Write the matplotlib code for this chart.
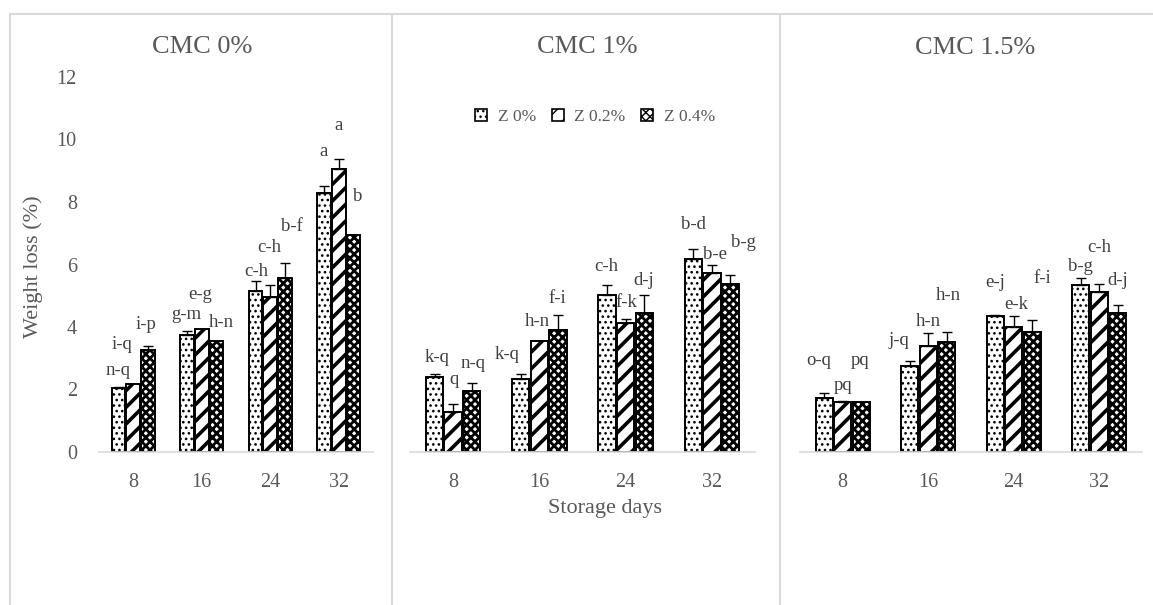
import numpy as np
import matplotlib.pyplot as plt
from matplotlib.lines import Line2D
from matplotlib.patches import Patch

days = ['8', '16', '24', '32']
panels = ['CMC 0%', 'CMC 1%', 'CMC 1.5%']
series = ['Z 0%', 'Z 0.2%', 'Z 0.4%']

# weight loss (%) per panel: rows = Z 0%, Z 0.2%, Z 0.4%
cmc0 = [[2.05, 3.73, 5.16, 8.29],
        [2.18, 3.95, 4.95, 9.06],
        [3.25, 3.56, 5.57, 6.95]]
cmc0_err = [[0.03, 0.15, 0.32, 0.21],
            [0.0, 0.0, 0.38, 0.32],
            [0.13, 0.0, 0.48, 0.0]]
cmc1 = [[2.39, 2.35, 5.01, 6.18],
        [1.28, 3.56, 4.13, 5.73],
        [1.96, 3.89, 4.45, 5.39]]
cmc1_err = [[0.10, 0.15, 0.32, 0.33],
            [0.27, 0.0, 0.14, 0.27],
            [0.25, 0.50, 0.57, 0.28]]
cmc15 = [[1.73, 2.74, 4.36, 5.33],
         [1.59, 3.38, 4.00, 5.12],
         [1.60, 3.51, 3.84, 4.45]]
cmc15_err = [[0.16, 0.16, 0.03, 0.23],
             [0.03, 0.43, 0.34, 0.26],
             [0.0, 0.33, 0.37, 0.25]]

# significance letters, in order day 8 (Z0, Z0.2, Z0.4), day 16, ...
cmc0_letters = ['n-q', 'i-q', 'i-p', 'g-m', 'e-g', 'h-n', 'c-h', 'c-h', 'b-f', 'a', 'a', 'b']
cmc1_letters = ['k-q', 'q', 'n-q', 'k-q', 'h-n', 'f-i', 'c-h', 'f-k', 'd-j', 'b-d', 'b-e', 'b-g']
cmc15_letters = ['o-q', 'pq', 'pq', 'j-q', 'h-n', 'h-n', 'e-j', 'e-k', 'f-i', 'b-g', 'c-h', 'd-j']

# where the letters sit (x offset from day centre, height in data units)
cmc0_lab_dx = [-0.22, -0.17, 0.19, -0.22, -0.02, 0.29, -0.21, -0.02, 0.31, -0.22, 0.0, 0.28]
cmc0_lab_y = [2.6, 3.43, 4.07, 4.39, 5.03, 4.13, 5.78, 6.56, 7.22, 9.62, 10.44, 8.18]
cmc1_lab_dx = [-0.19, 0.01, 0.23, -0.38, -0.02, 0.21, -0.22, 0.01, 0.21, -0.21, 0.04, 0.37]
cmc1_lab_y = [3.01, 2.31, 2.82, 3.11, 4.18, 4.91, 5.94, 4.77, 5.48, 7.27, 6.31, 6.71]
cmc15_lab_dx = [-0.28, 0.0, 0.2, -0.34, 0.0, 0.23, -0.22, 0.03, 0.33, -0.22, 0.0, 0.22]
cmc15_lab_y = [2.92, 2.12, 2.92, 3.56, 4.18, 5.0, 5.41, 4.71, 5.54, 5.94, 6.56, 5.48]

values = [cmc0, cmc1, cmc15]
errors = [cmc0_err, cmc1_err, cmc15_err]
letters = [cmc0_letters, cmc1_letters, cmc15_letters]
lab_dx = [cmc0_lab_dx, cmc1_lab_dx, cmc15_lab_dx]
lab_y = [cmc0_lab_y, cmc1_lab_y, cmc15_lab_y]

hatches = ['...', '//', 'xxxx']
hatch_lw = [1.1, 2.6, 2.0]
grey = '#595959'
plt.rcParams['font.family'] = 'Liberation Serif'

fig = plt.figure(figsize=(11.53, 6.05), dpi=100)
W, H = 1153, 605

# axes boxes in pixels: left, right
boxes = [(99, 373), (410, 755), (800, 1142)]
title_pos = [(202, 47), (587, 47), (975, 48)]
y0, y12 = 452, 77

x = np.arange(len(days))
width = 0.2
offsets = [-0.215, 0, 0.215]

for p in range(3):
    l, r = boxes[p]
    ax = fig.add_axes([l / W, (H - y0) / H, (r - l) / W, (y0 - y12) / H])
    for s in range(3):
        bars = ax.bar(x + offsets[s], values[p][s], width, color='white', edgecolor='black',
                      linewidth=1.4, hatch=hatches[s])
        for b in bars:
            if hasattr(b, 'set_hatch_linewidth'):
                b.set_hatch_linewidth(hatch_lw[s])
        err = np.array(errors[p][s])
        m = err > 0
        ax.errorbar(x[m] + offsets[s], np.array(values[p][s])[m],
                    yerr=[np.zeros(m.sum()), err[m]], fmt='none', ecolor='black',
                    elinewidth=1.0, capsize=3.5, capthick=1.0)
    for i in range(len(letters[p])):
        d, s = divmod(i, 3)
        ax.text(d + lab_dx[p][i], lab_y[p][i], letters[p][i], ha='center', va='center',
                fontsize=13.5, color='#404040')
    ax.set_xlim(-0.5, 3.5)
    ax.set_ylim(0, 12)
    ax.set_xticks(x, days)
    ax.set_yticks(range(0, 13, 2))
    ax.tick_params(length=0, labelsize=14.5, colors=grey)
    ax.tick_params(axis='x', pad=15)
    ax.tick_params(axis='y', pad=16)
    if p > 0:
        ax.tick_params(axis='y', labelleft=False)
    for sp in ['top', 'right', 'left']:
        ax.spines[sp].set_visible(False)
    ax.spines['bottom'].set_color('#d9d9d9')
    ax.spines['bottom'].set_linewidth(1.2)
    ax.patch.set_alpha(0)
    tx, ty = title_pos[p]
    fig.text(tx / W, 1 - ty / H, panels[p], ha='center', va='center', fontsize=19, color=grey)

fig.text(33 / W, 1 - 267 / H, 'Weight loss (%)', rotation=90, ha='center', va='center',
         fontsize=16, color=grey)
fig.text(605 / W, 1 - 508 / H, 'Storage days', ha='center', va='center', fontsize=16, color=grey)

handles = [Patch(facecolor='white', edgecolor='black', hatch=hatches[s], linewidth=1.2)
           for s in range(3)]
fig.legend(handles, series, loc='center', bbox_to_anchor=(595 / W, 1 - 117 / H), ncol=3,
           frameon=False, handlelength=0.7, handleheight=0.7, handletextpad=0.6,
           columnspacing=0.9, prop={'size': 12.5}, labelcolor=grey)

# chart borders
bc = '#d9d9d9'
fig.add_artist(Line2D([10 / W, 1], [1 - 14 / H] * 2, color=bc, lw=1.5))
for bx in [10, 392, 780]:
    fig.add_artist(Line2D([bx / W] * 2, [0, 1 - 14 / H], color=bc, lw=1.5))

fig.savefig('out.png', dpi=100)
